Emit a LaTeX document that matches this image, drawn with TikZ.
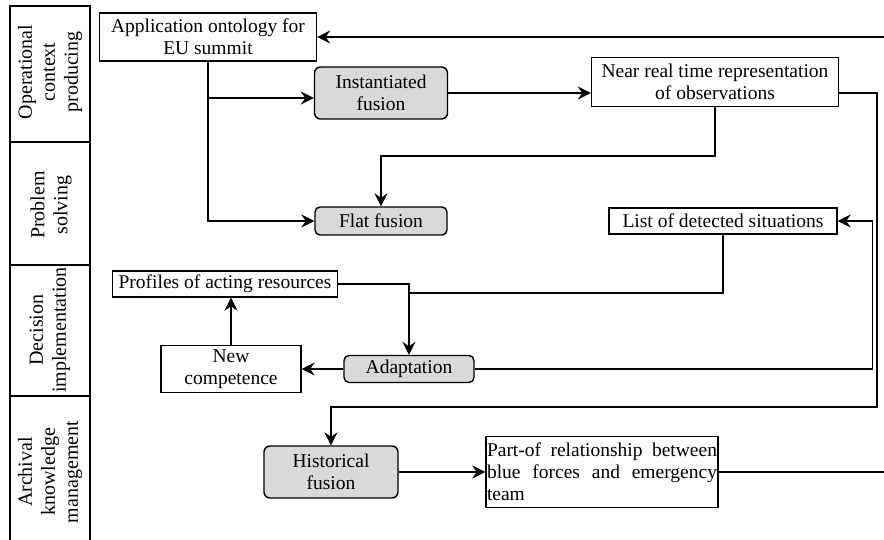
\documentclass[tikz,border=0pt]{standalone}
\usepackage{fontspec}
\setmainfont{Liberation Serif}
\usetikzlibrary{arrows.meta}
\definecolor{fusiongray}{RGB}{217,217,217}

\begin{document}
\begin{tikzpicture}[x=1pt,y=-1pt,line width=1.4pt,
  every node/.style={font=\fontsize{19.5}{22}\selectfont,inner sep=1pt},
  databox/.style={draw,fill=white,align=center},
  fusion/.style={draw,fill=fusiongray,rounded corners=5pt,align=center},
  lane/.style={rotate=90,align=center,font=\fontsize{20}{23}\selectfont},
  arr/.style={-{Stealth[length=13pt,width=13pt,inset=4.5pt]}}]
  \useasboundingbox (0,0) rectangle (884,540);
  % swimlanes
  \draw (10,6) rectangle (90,142);
  \draw (10,142) rectangle (90,265);
  \draw (10,265) rectangle (90,396);
  \draw (10,541) -- (10,396) -- (90,396) -- (90,541);
  \node[lane] (opctx) at (50,72) {Operational\\context\\producing};
  \node[lane] (probsolv) at (51,205) {Problem\\solving};
  \node[lane] (decimpl) at (50,330) {Decision\\implementation};
  \node[lane] (archive) at (50,472) {Archival\\knowledge\\management};
  % products and fusion steps
  \node[databox,minimum width=217pt,minimum height=48pt] (ontology) at (208,37) {Application ontology for\\EU summit};
  \node[fusion,minimum width=133pt,minimum height=52pt,rounded corners=6pt] (instfus) at (381,93) {Instantiated\\fusion};
  \node[databox,minimum width=247pt,minimum height=49pt] (nearrt) at (715,82) {Near real time representation\\of observations};
  \node[fusion,minimum width=132pt,minimum height=28pt] (flatfus) at (381,221) {Flat fusion};
  \node[databox,minimum width=228pt,minimum height=26pt] (detsit) at (723,221) {List of detected situations};
  \node[databox,minimum width=225pt,minimum height=26pt] (profiles) at (225,284) {Profiles of acting resources};
  \node[databox,minimum width=140pt,minimum height=47pt] (newcomp) at (231,369) {New\\competence};
  \node[fusion,minimum width=130pt,minimum height=27pt] (adapt) at (409,369) {Adaptation};
  \node[fusion,minimum width=134pt,minimum height=52pt,rounded corners=6pt] (histfus) at (331,472) {Historical\\fusion};
  \node[databox,text width=230pt,align=justify,minimum height=71pt] (partof) at (602,472) {\hyphenpenalty=10000 Part-of relationship between blue forces and emergency team};
  % connectors
  \coordinate (feedin) at (884,37);
  \coordinate (feedout) at (884,472);
  \coordinate (rightbus) at (877,407);
  \draw[arr] (feedin) -- (ontology.east);
  \draw[arr] (ontology.south) |- (flatfus.west);
  \draw[arr] ([yshift=-5pt]instfus.west -| ontology.south) -- ([yshift=-5pt]instfus.west);
  \draw[arr] (instfus.east) -- (instfus.east -| nearrt.west);
  \draw[arr] (nearrt.south) -- (nearrt.south |- 0,156) -| (flatfus.north);
  \draw[arr] ([yshift=-11pt]nearrt.east) -| (rightbus) -| (histfus.north);
  \draw[arr] (adapt.east) -| ([xshift=35pt]detsit.east) -- (detsit.east);
  \draw (detsit.south) |- (adapt.north |- 0,293);
  \draw[arr] (profiles.east) -| (adapt.north);
  \draw[arr] (adapt.west) -- (newcomp.east);
  \draw[arr] (newcomp.north) -- (newcomp.north |- profiles.south);
  \draw[arr] (histfus.east) -- (partof.west);
  \draw (partof.east) -- (feedout);
\end{tikzpicture}
\end{document}
